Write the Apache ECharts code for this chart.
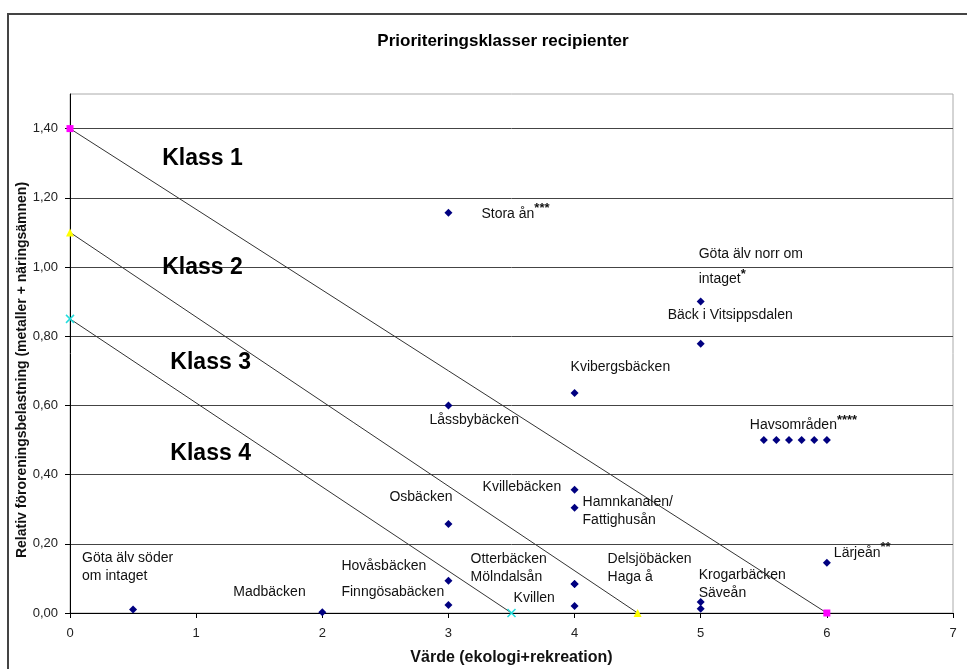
<!DOCTYPE html>
<html><head><meta charset="utf-8">
<script src="https://cdn.jsdelivr.net/npm/echarts@6/dist/echarts.min.js"></script>
<style>html,body{margin:0;padding:0;background:#fff}#c{width:967px;height:669px}</style>
</head><body><div id="c"></div>
<script>
// ---- data ----
const siteNames = ['Göta älv söder\nom intaget','Madbäcken','Hovåsbäcken','Finngösabäcken','Osbäcken','Låssbybäcken','Stora ån','Kvibergsbäcken','Kvillebäcken','Hamnkanalen/\nFattighusån','Otterbäcken\nMölndalsån','Delsjöbäcken\nHaga å','Kvillen','Göta älv norr om\nintaget','Bäck i Vitsippsdalen','Krogarbäcken\nSäveån','Krogarbäcken2','Lärjeån','Havsområden','Hav2','Hav3','Hav4','Hav5','Hav6'];
const siteX = [0.5, 2, 3, 3, 3, 3, 3, 4, 4, 4, 4, 4, 4, 5, 5, 5, 5, 6, 5.5, 5.6, 5.7, 5.8, 5.9, 6.0];
const siteY = [0.01, 0.002, 0.093, 0.023, 0.257, 0.60, 1.157, 0.636, 0.356, 0.304, 0.084, 0.084, 0.02, 0.90, 0.778, 0.032, 0.012, 0.145, 0.50, 0.50, 0.50, 0.50, 0.50, 0.50];
const siteStars = {'Stora ån':'***','Göta älv norr om\nintaget':'*','Lärjeån':'**','Havsområden':'****'};
const class1Line = [[0, 1.4], [6, 0]];
const class2Line = [[0, 1.1], [4.5, 0]];
const class3Line = [[0, 0.85], [3.5, 0]];
const classNames = ['Klass 1', 'Klass 2', 'Klass 3', 'Klass 4'];
const yTicks = [0, 0.2, 0.4, 0.6, 0.8, 1.0, 1.2, 1.4];
const yAxisTitle = 'Relativ föroreningsbelastning (metaller + näringsämnen)';
const xAxisTitle = 'Värde (ekologi+rekreation)';

// ---- layout (label offsets in px) ----
const labelLayout = {
  'Göta älv söder\nom intaget': {off: [-51, -42], lh: 18},
  'Madbäcken': {off: [-89, -20]},
  'Hovåsbäcken': {off: [-107, -15]},
  'Finngösabäcken': {off: [-107, -13]},
  'Osbäcken': {off: [-59, -27]},
  'Låssbybäcken': {off: [-19, 15]},
  'Stora ån': {off: [33, 1]},
  'Kvibergsbäcken': {off: [-4, -26]},
  'Kvillebäcken': {off: [-92, -3]},
  'Hamnkanalen/\nFattighusån': {off: [8, 3], lh: 18},
  'Otterbäcken\nMölndalsån': {off: [-104, -16], lh: 18},
  'Delsjöbäcken\nHaga å': {off: [33, -16], lh: 18},
  'Kvillen': {off: [-61, -8]},
  'Göta älv norr om\nintaget': {off: [-2, -35], lh: 25},
  'Bäck i Vitsippsdalen': {off: [-33, -29]},
  'Krogarbäcken\nSäveån': {off: [-2, -18], lh: 18},
  'Lärjeån': {off: [7, -10]},
  'Havsområden': {off: [-14, -15]}
};

const font = "'Liberation Sans', Arial, sans-serif";
const pts = siteNames.map((n, i) => {
  const lay = labelLayout[n];
  const d = {name: n, value: [siteX[i], siteY[i]]};
  if (lay) {
    const star = siteStars[n];
    let txt = n.split('\n').map((s, k, arr) => (k === arr.length - 1 && star) ? '{t|' + s + '}{s|' + star + '}' : '{t|' + s + '}').join('\n');
    d.label = {show: true, position: 'inside', align: 'left', verticalAlign: 'middle', offset: lay.off,
      formatter: txt, rich: {
        t: {fontSize: 14, fontFamily: font, color: '#111', lineHeight: lay.lh || 17},
        s: {fontSize: 13, fontFamily: font, color: '#111', fontWeight: 'bold', padding: [0, 0, 10, 0], lineHeight: lay.lh || 17}
      }};
  } else {
    d.label = {show: false};
  }
  return d;
});

const classPos = [[1.05, 1.313], [1.05, 0.998], [1.115, 0.723], [1.115, 0.46]];

const chart = echarts.init(document.getElementById('c'), null, {renderer: 'canvas'});
chart.setOption({
  animation: false,
  backgroundColor: '#fff',
  title: {text: 'Prioriteringsklasser recipienter', left: 498, top: 28, textAlign: 'center',
    textStyle: {fontFamily: "'Liberation Sans Narrow', 'Liberation Sans', Arial", fontWeight: 'bold', fontSize: 17, color: '#000'}},
  graphic: [
    {type: 'rect', shape: {x: 8, y: 14, width: 1000, height: 700}, style: {fill: null, stroke: '#444', lineWidth: 2}, silent: true, z: -1},
    {type: 'text', x: 22, y: 370, rotation: Math.PI / 2, silent: true,
      style: {text: yAxisTitle, align: 'center', verticalAlign: 'middle', fill: '#111', font: "bold 14px 'Liberation Sans', Arial, sans-serif"}}
  ],
  grid: {left: 70, right: 14, top: 94, bottom: 56, show: true, borderColor: '#aaa', borderWidth: 1, outerBoundsMode: 'none', containLabel: false},
  xAxis: {type: 'value', min: 0, max: 7, interval: 1,
    name: xAxisTitle, nameLocation: 'middle', nameGap: 37,
    nameTextStyle: {fontFamily: font, fontWeight: 'bold', fontSize: 16, color: '#111'},
    axisLine: {show: true, lineStyle: {color: '#000', width: 1}},
    axisTick: {show: true, length: 5, lineStyle: {color: '#000'}},
    axisLabel: {fontFamily: font, fontSize: 13, color: '#222', margin: 14},
    splitLine: {show: false}},
  yAxis: {type: 'value', min: 0, max: 1.5, interval: 0.2,
    axisLine: {show: true, lineStyle: {color: '#000', width: 1}},
    axisTick: {show: true, length: 5, lineStyle: {color: '#000'}},
    axisLabel: {fontFamily: font, fontSize: 13, color: '#222', margin: 12, showMaxLabel: false,
      formatter: v => yTicks.some(t => Math.abs(t - v) < 1e-6) ? v.toFixed(2).replace('.', ',') : ''},
    splitLine: {show: true, showMaxLine: false, lineStyle: {color: '#444', width: 1}}},
  series: [
    {type: 'line', data: class1Line, symbol: 'rect', symbolSize: 7, showAllSymbol: true,
      lineStyle: {color: '#333', width: 1}, itemStyle: {color: '#ff00ff'}, z: 3},
    {type: 'line', data: class2Line, symbol: 'triangle', symbolSize: 8,
      lineStyle: {color: '#333', width: 1}, itemStyle: {color: '#ffff00'}, z: 3},
    {type: 'line', data: class3Line, symbol: 'path://M0,0L10,10M10,0L0,10', symbolSize: 8,
      lineStyle: {color: '#333', width: 1}, itemStyle: {color: 'none', borderColor: '#22dddd', borderWidth: 1.5}, z: 3},
    {type: 'scatter', data: pts, symbol: 'diamond', symbolSize: 8, itemStyle: {color: '#000080', opacity: 1}, z: 4},
    {type: 'scatter', symbolSize: 0, z: 5, itemStyle: {opacity: 1},
      data: classNames.map((n, i) => ({name: n, value: classPos[i]})),
      label: {show: true, position: 'inside', formatter: p => p.name, fontFamily: font, fontWeight: 'bold', fontSize: 23, color: '#000'}}
  ]
});
</script>
</body></html>
